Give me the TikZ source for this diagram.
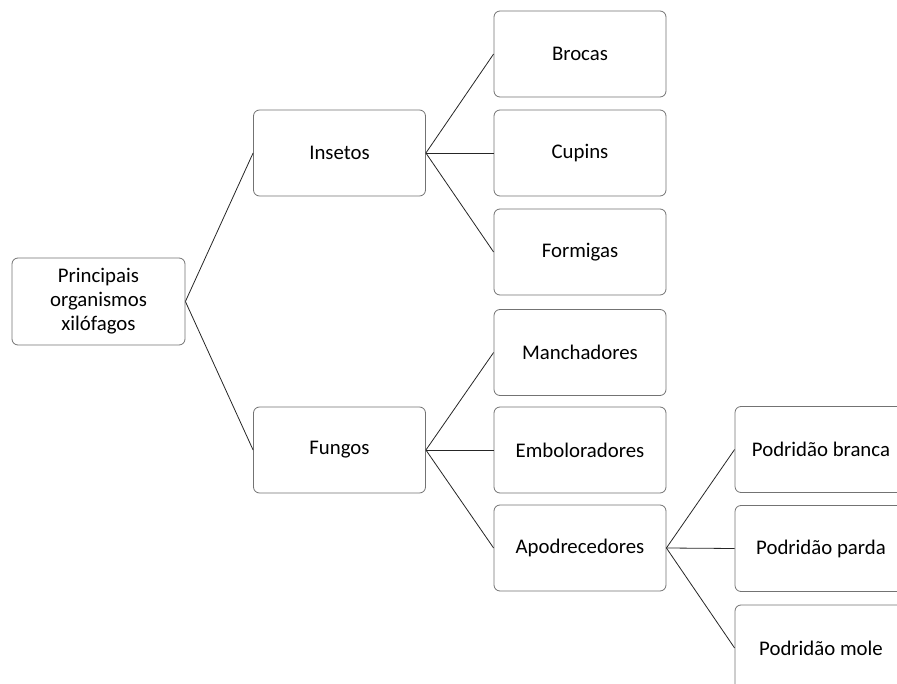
\documentclass[tikz,border=0pt]{standalone}
\usepackage{fontspec}
\setmainfont{Carlito}
\begin{document}
\begin{tikzpicture}[x=1pt,y=-1pt,
  box/.style={draw=black!55, line width=0.8pt, rounded corners=6pt, fill=white,
    minimum width=172pt, minimum height=86pt, inner sep=2pt, align=center,
    font=\fontsize{20.8pt}{24pt}\selectfont, text=black},
  link/.style={draw=black!85, line width=0.8pt}]
\useasboundingbox (0,0) rectangle (897,684);
\clip (0,0) rectangle (897,684);
\node[box, minimum width=173pt, minimum height=87pt] (root) at (98.5,301.5) {Principais\\organismos\\xilófagos};
\node[box] (ins) at (339.5,153) {Insetos};
\node[box] (fun) at (339.5,450) {Fungos};
\node[box] (bro) at (580,54) {Brocas};
\node[box] (cup) at (580,153) {Cupins};
\node[box] (for) at (580,252) {Formigas};
\node[box] (man) at (580,352.5) {Manchadores};
\node[box] (emb) at (580,450) {Emboloradores};
\node[box] (apo) at (580,548) {Apodrecedores};
\node[box] (pbr) at (821,449.5) {Podridão branca};
\node[box] (ppa) at (821,548.5) {Podridão parda};
\node[box] (pmo) at (821,648) {Podridão mole};
\draw[link] (root.east) -- (ins.west);
\draw[link] (root.east) -- (fun.west);
\draw[link] (ins.east) -- (bro.west);
\draw[link] (ins.east) -- (cup.west);
\draw[link] (ins.east) -- (for.west);
\draw[link] (fun.east) -- (man.west);
\draw[link] (fun.east) -- (emb.west);
\draw[link] (fun.east) -- (apo.west);
\draw[link] (apo.east) -- (pbr.west);
\draw[link] (apo.east) -- (ppa.west);
\draw[link] (apo.east) -- (pmo.west);
\end{tikzpicture}
\end{document}
